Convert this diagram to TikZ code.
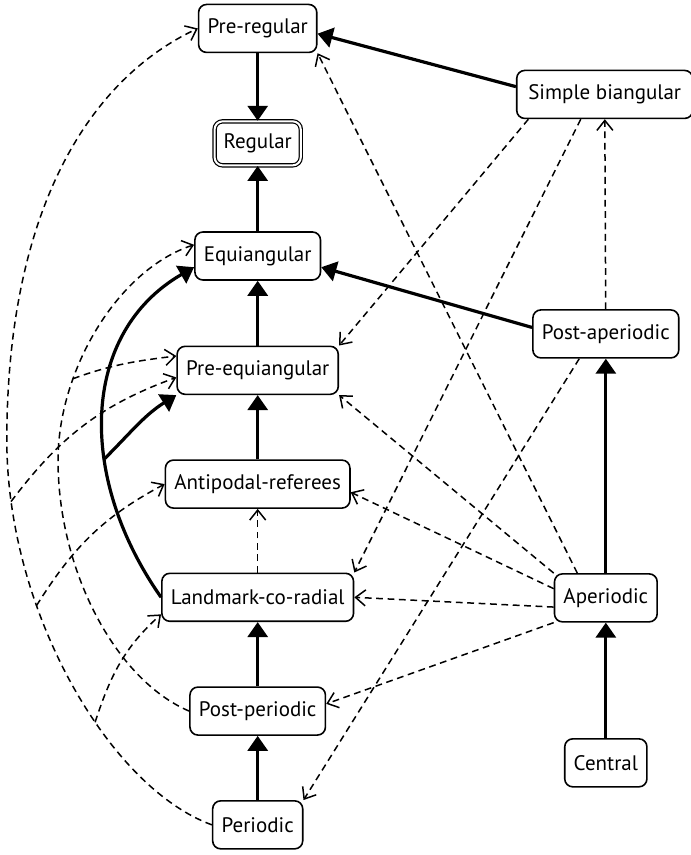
\documentclass[tikz,border=0pt]{standalone}
\usepackage{fontspec}
\setmainfont{PT Sans}
\usepackage{tikz}
\usetikzlibrary{arrows.meta, positioning}
\newcommand{\stagefont}{\fontsize{10.5}{12}\selectfont}
\tikzset{
	stage/.style={draw, line width=0.8pt, rounded corners=4pt, minimum height=24pt, inner xsep=4.5pt, font=\stagefont},
	goal/.style={stage, double, double distance=1pt, line width=0.6pt, minimum height=22pt},
	implies/.style={-{Triangle[length=7.5pt,width=10pt]}, line width=1.6pt},
	cond/.style={-{Straight Barb[length=5pt,width=8pt]}, line width=0.75pt, dash pattern=on 3.4pt off 2.3pt},
}

\begin{document}
\begin{tikzpicture}
	\useasboundingbox (0,0) rectangle (12.14,15.03);

	% left column
	\node[stage] (prereg) at (4.53,14.53) {Pre-regular};
	\node[goal] (reg) at (4.53,12.51) {Regular};
	\node[stage] (equi) at (4.53,10.53) {Equiangular};
	\node[stage] (preeq) at (4.53,8.52) {Pre-equiangular};
	\node[stage] (anti) at (4.53,6.52) {Antipodal-referees};
	\node[stage] (lcr) at (4.53,4.53) {Landmark-co-radial};
	\node[stage] (postper) at (4.53,2.53) {Post-periodic};
	\node[stage] (per) at (4.53,0.53) {Periodic};

	% right column
	\node[stage, minimum width=88pt] (simple) at (10.63,13.37) {Simple biangular};
	\node[stage] (postaper) at (10.65,9.16) {Post-aperiodic};
	\node[stage] (aper) at (10.65,4.52) {Aperiodic};
	\node[stage] (central) at (10.65,1.62) {Central};

	% waypoints of the long curves on the left
	\coordinate (swing) at (0.12,7.29);
	\coordinate (bend) at (1.02,6.94);

	% solid implications
	\draw[implies] (prereg) -- (reg);
	\draw[implies] (equi) -- (reg);
	\draw[implies] (preeq) -- (equi);
	\draw[implies] (anti) -- (preeq);
	\draw[implies] (postper) -- (lcr);
	\draw[implies] (per) -- (postper);
	\draw[implies] (central) -- (aper);
	\draw[implies] (aper) -- (postaper);
	\draw[implies] (simple.175) -- (prereg.355);
	\draw[implies] (postaper.175) -- (equi.350);
	\draw[implies] (lcr.west) .. controls +(125:2.6) and +(210:2.3) .. (equi.190)
		coordinate[pos=0.37] (fork);
	\draw[implies] (fork) to[out=45,in=212] (preeq.south west);

	% dashed implications from the periodic side
	\draw[cond] (per.west) .. controls +(160:1.93) and +(270:2.99) .. (swing)
		coordinate[pos=0.4] (f1) coordinate[pos=0.67] (f2) coordinate[pos=0.88] (f3)
		.. controls +(90:4.04) and +(205:2.11) .. (prereg.west);
	\draw[cond] (f1) to[out=72,in=222] (lcr.190);
	\draw[cond] (f2) to[out=58,in=208] (anti.west);
	\draw[cond] (f3) to[out=53,in=200] (preeq.185);

	\draw[cond] (postper.west) .. controls +(157:1.41) and +(270:1.93) .. (bend)
		.. controls +(90:1.58) and +(198:1.41) .. (equi.170)
		coordinate[pos=0.3] (f4);
	\draw[cond] (f4) to[out=20,in=187] (preeq.170);

	\draw[cond] (lcr) -- (anti);

	% dashed implications from the right column
	\draw[cond] (simple.198) -- (preeq.north east);
	\draw[cond] (simple.226) -- (lcr.north east);
	\draw[cond] (postaper) -- (simple);
	\draw[cond] (postaper.223) -- (per.north east);
	\draw[cond] (aper.139) -- (prereg.south east);
	\draw[cond] (aper.north west) -- (preeq.south east);
	\draw[cond] (aper.170) -- (anti.355);
	\draw[cond] (aper.190) -- (lcr.east);
	\draw[cond] (aper.south west) -- (postper.6);
\end{tikzpicture}
\end{document}
